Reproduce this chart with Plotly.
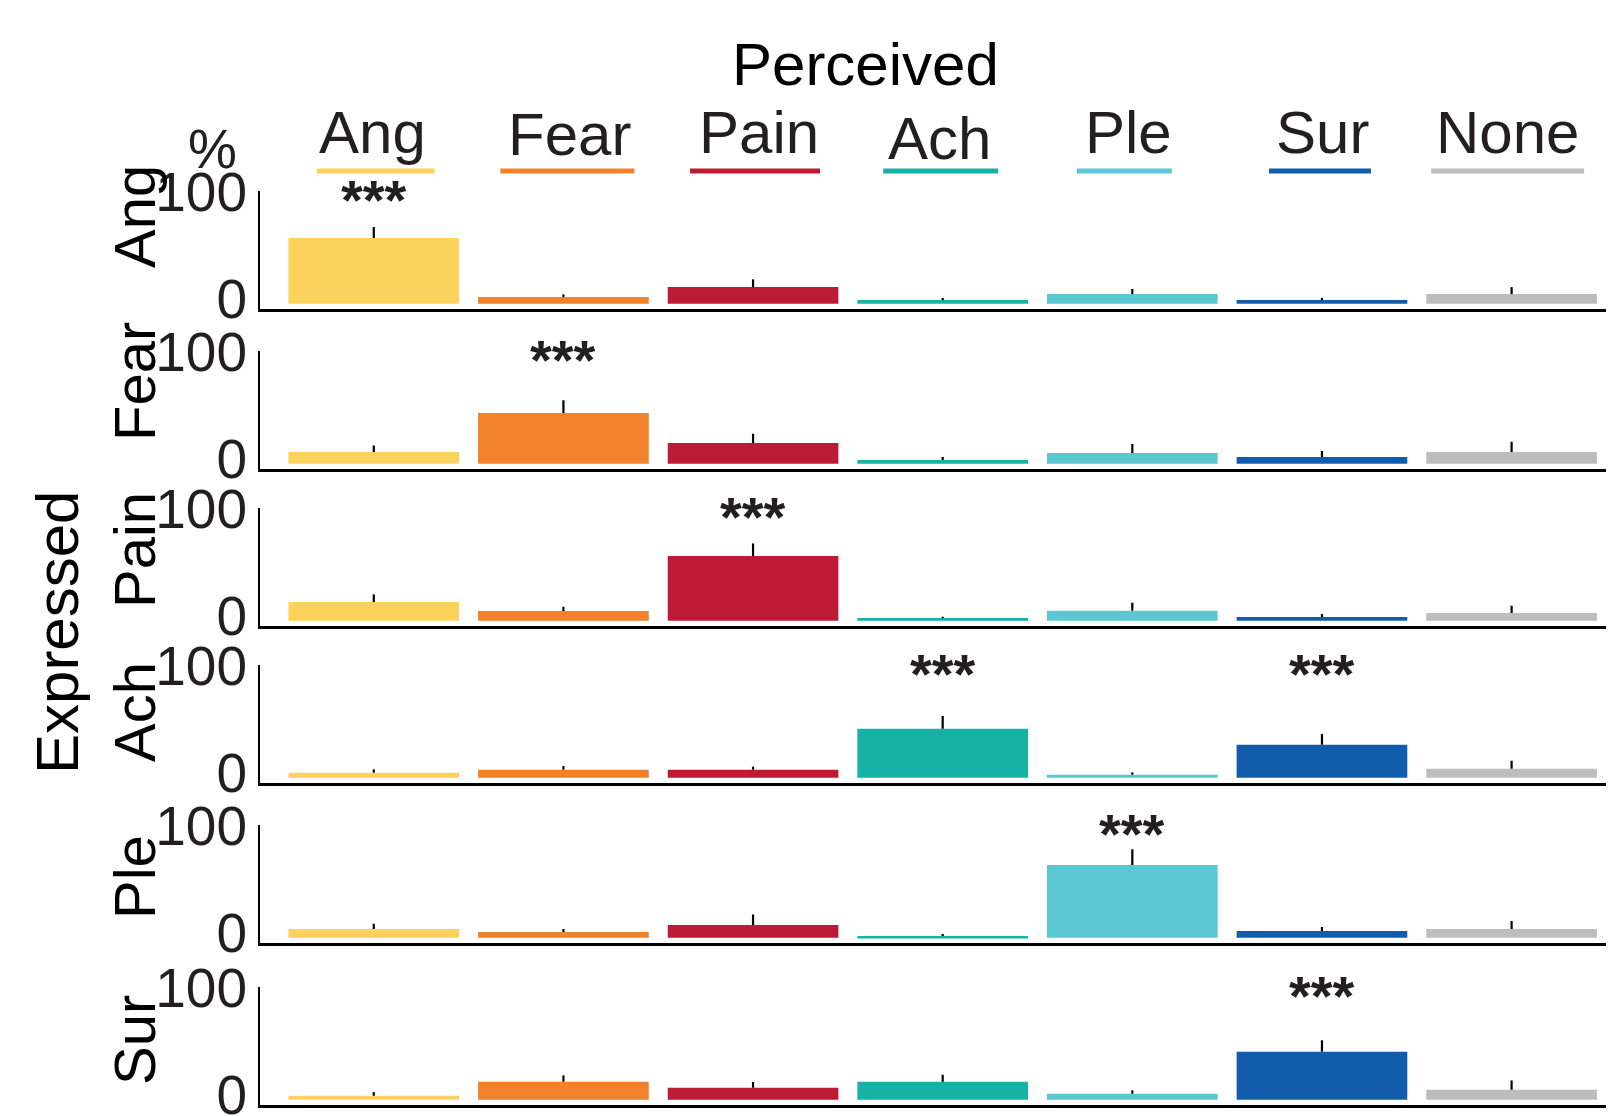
import plotly.graph_objects as go

# ---------------- data ----------------
perceived = ["Ang", "Fear", "Pain", "Ach", "Ple", "Sur", "None"]
expressed = ["Ang", "Fear", "Pain", "Ach", "Ple", "Sur"]
colors = ["#FBD35C", "#F2812C", "#BC1A35", "#17B2A6", "#5AC7D3", "#115DAB", "#BDBDBD"]

pct_ang = [61.4, 6.2, 15.6, 3.4, 9.0, 3.4, 9.0]
pct_fear = [10.9, 47.4, 19.3, 3.4, 10.0, 6.2, 10.9]
pct_pain = [17.4, 9.0, 60.4, 2.5, 9.3, 3.4, 7.2]
pct_ach = [4.7, 7.5, 7.5, 45.8, 2.8, 30.8, 8.4]
pct_ple = [8.1, 5.3, 11.8, 1.6, 67.9, 6.2, 8.1]
pct_sur = [3.7, 16.8, 11.2, 16.8, 5.6, 44.9, 9.3]

err_ang = [10.3, 2.5, 7.2, 2.0, 4.7, 2.0, 6.5]
err_fear = [6.2, 11.8, 8.7, 2.8, 8.4, 5.6, 9.7]
err_pain = [7.2, 4.0, 11.8, 1.2, 7.5, 2.8, 6.8]
err_ach = [3.1, 3.4, 2.8, 11.8, 2.2, 10.0, 7.5]
err_ple = [5.0, 2.8, 10.0, 1.9, 14.7, 3.7, 7.5]
err_sur = [3.4, 5.9, 5.3, 6.5, 3.1, 10.6, 8.7]

sig_ang = ["***", "", "", "", "", "", ""]
sig_fear = ["", "***", "", "", "", "", ""]
sig_pain = ["", "", "***", "", "", "", ""]
sig_ach = ["", "", "", "***", "", "***", ""]
sig_ple = ["", "", "", "", "***", "", ""]
sig_sur = ["", "", "", "", "", "***", ""]

y_ticks = [0, 100]

values = [pct_ang, pct_fear, pct_pain, pct_ach, pct_ple, pct_sur]
errors = [err_ang, err_fear, err_pain, err_ach, err_ple, err_sur]
sigs = [sig_ang, sig_fear, sig_pain, sig_ach, sig_ple, sig_sur]

# ---------------- layout constants ----------------
PAGE_OFF = 8                      # default body margin of the html page
W, H = 1614 - PAGE_OFF, 1116 - PAGE_OFF
AXIS_X = 260                      # page x of the y-axis line
L_MARGIN = AXIS_X - PAGE_OFF
FONT = "Liberation Sans, Arial, sans-serif"
TXT = "#231F20"

panel_bottom_px = [309, 469, 626, 783, 943, 1105]   # page y of x-axis lines
panel_h_px = 118.5
yrange = [-4.95, 105.8]
xrange = [-0.6, 6.54]
row_label_y_px = [217, 382, 550, 712, 877, 1040]

def py(p):
    return 1 - (p - PAGE_OFF) / H

def px(p):
    return (p - PAGE_OFF - L_MARGIN) / (W - L_MARGIN)

fig = go.Figure()
layout = dict(
    template="none",
    width=W, height=H, autosize=False,
    margin=dict(l=L_MARGIN, r=0, t=0, b=0, pad=0),
    plot_bgcolor="white", paper_bgcolor="white",
    showlegend=False,
    bargap=0.1,
    font=dict(family=FONT, color=TXT),
)

annotations = []
shapes = []
x_idx = list(range(len(perceived)))

for r, (vals, errs, sg) in enumerate(zip(values, errors, sigs)):
    n = r + 1
    xa = "x" if n == 1 else f"x{n}"
    ya = "y" if n == 1 else f"y{n}"
    fig.add_trace(go.Bar(
        x=x_idx, y=vals, marker=dict(color=colors, line=dict(width=0)),
        error_y=dict(type="data", symmetric=False, array=errs,
                     arrayminus=[0] * len(errs), width=0, thickness=2.2,
                     color="black"),
        xaxis=xa, yaxis=ya, hoverinfo="skip",
    ))
    bottom = py(panel_bottom_px[r])
    top = py(panel_bottom_px[r] - panel_h_px)
    layout["xaxis" if n == 1 else f"xaxis{n}"] = dict(
        domain=[0, 1], range=xrange, anchor=ya, showticklabels=False,
        ticks="", showgrid=False, zeroline=False, showline=True,
        linecolor="black", linewidth=3, fixedrange=True, automargin=False,
    )
    layout["yaxis" if n == 1 else f"yaxis{n}"] = dict(
        domain=[bottom, top], range=yrange, anchor=xa, tickvals=y_ticks,
        ticktext=[str(t) for t in y_ticks], ticks="", showgrid=False,
        zeroline=False, showline=True, linecolor="black", linewidth=2,
        tickfont=dict(size=55, family=FONT, color=TXT), fixedrange=True,
        automargin=False, ticklabeloverflow="allow", ticklabelshift=-5,
    )
    for i, s in enumerate(sg):
        if s:
            annotations.append(dict(
                x=i, y=105, xref=xa, yref=ya, text="<b>" + s + "</b>",
                showarrow=False,
                font=dict(size=56, family=FONT, color=TXT),
                yanchor="middle", yshift=-8,
            ))
    annotations.append(dict(
        x=px(134), y=py(row_label_y_px[r]), xref="paper", yref="paper",
        text=expressed[r], textangle=-90, showarrow=False,
        font=dict(size=58, family=FONT, color="black"),
        xanchor="center", yanchor="middle",
    ))

# column headers and underlines
label_shift = [-1, 6, 6, -3, -4, 1, -4]
label_yshift = [0, -2, 0, -6, 0, 0, 0]
under_w = [118, 134, 130, 115, 95, 102, 153]
under_shift = [2, 4, 2, -2, -8, -2, -4]
for i, name in enumerate(perceived):
    annotations.append(dict(
        x=i, y=py(132), xref="x", yref="paper", text=name, showarrow=False,
        font=dict(size=60, family=FONT, color=TXT), xshift=label_shift[i],
        yshift=label_yshift[i], xanchor="center", yanchor="middle",
    ))
    shapes.append(dict(
        type="rect", xref="x", yref="paper", xsizemode="pixel",
        ysizemode="pixel", xanchor=i, yanchor=py(171),
        x0=under_shift[i] - under_w[i] / 2, x1=under_shift[i] + under_w[i] / 2,
        y0=-2.5, y1=2.5, fillcolor=colors[i], line=dict(width=0),
    ))

annotations.append(dict(
    x=px(865), y=py(64), xref="paper", yref="paper", text="Perceived",
    showarrow=False, font=dict(size=60, family=FONT, color="black"),
    xanchor="center", yanchor="middle",
))
annotations.append(dict(
    x=px(57), y=py(633), xref="paper", yref="paper", text="Expressed",
    textangle=-90, showarrow=False, font=dict(size=60, family=FONT, color="black"),
    xanchor="center", yanchor="middle",
))
annotations.append(dict(
    x=px(212), y=py(149), xref="paper", yref="paper", text="%",
    showarrow=False, font=dict(size=55, family=FONT, color=TXT),
    xanchor="center", yanchor="middle",
))

layout["annotations"] = annotations
layout["shapes"] = shapes
fig.update_layout(**layout)
fig.write_html("out.html")
